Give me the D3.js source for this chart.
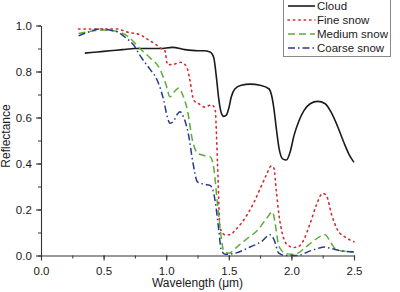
<!DOCTYPE html>
<html>
<head>
<meta charset="utf-8">
<script src="https://cdn.jsdelivr.net/npm/d3@7"></script>
<style>
  body { margin: 0; background: #fff; }
  text { font-family: "Liberation Sans", Arial, sans-serif; }
</style>
</head>
<body>
<div id="chart"></div>
<script>
// spectral reflectance
const cloudWl = [0.35,0.45,0.55,0.65,0.75,0.85,0.95,1.05,1.15,1.25,1.3,1.35,1.38,1.40,1.42,1.44,1.46,1.48,1.50,1.52,1.55,1.60,1.67,1.75,1.82,1.84,1.86,1.88,1.90,1.93,1.96,1.99,2.02,2.06,2.10,2.15,2.21,2.27,2.32,2.37,2.42,2.46,2.50];
const cloudR  = [0.88,0.885,0.89,0.895,0.9,0.9,0.9,0.905,0.895,0.89,0.89,0.885,0.86,0.78,0.68,0.62,0.605,0.61,0.64,0.69,0.725,0.74,0.745,0.74,0.725,0.70,0.64,0.55,0.47,0.42,0.415,0.45,0.52,0.585,0.63,0.66,0.67,0.66,0.62,0.56,0.49,0.44,0.405];

const fineWl = [0.30,0.40,0.50,0.60,0.70,0.79,0.85,0.91,0.96,0.99,1.01,1.05,1.11,1.15,1.17,1.19,1.22,1.26,1.31,1.36,1.39,1.41,1.43,1.47,1.51,1.55,1.60,1.65,1.70,1.75,1.80,1.84,1.86,1.88,1.90,1.93,1.97,2.02,2.06,2.10,2.15,2.20,2.25,2.28,2.32,2.37,2.43,2.50];
const fineR  = [0.985,0.985,0.985,0.985,0.97,0.96,0.94,0.92,0.90,0.89,0.83,0.83,0.84,0.83,0.81,0.76,0.675,0.66,0.645,0.655,0.64,0.40,0.12,0.09,0.09,0.11,0.14,0.18,0.23,0.29,0.35,0.39,0.38,0.28,0.18,0.09,0.045,0.035,0.04,0.07,0.14,0.22,0.27,0.26,0.18,0.11,0.08,0.06];

const medWl = [0.30,0.40,0.50,0.60,0.70,0.79,0.87,0.95,1.00,1.03,1.07,1.10,1.13,1.17,1.21,1.25,1.30,1.35,1.38,1.41,1.43,1.46,1.50,1.57,1.65,1.73,1.80,1.85,1.87,1.90,1.95,2.00,2.05,2.10,2.17,2.22,2.27,2.30,2.35,2.40,2.45,2.50];
const medR  = [0.965,0.975,0.98,0.975,0.95,0.90,0.86,0.81,0.74,0.69,0.715,0.728,0.70,0.63,0.50,0.445,0.435,0.43,0.38,0.22,0.12,0.02,0.01,0.04,0.075,0.11,0.16,0.19,0.14,0.04,0.01,0.005,0.01,0.03,0.06,0.08,0.09,0.07,0.03,0.02,0.018,0.015];

const coarseWl = [0.30,0.37,0.47,0.55,0.62,0.68,0.74,0.79,0.87,0.93,0.98,1.01,1.03,1.06,1.09,1.11,1.14,1.18,1.21,1.25,1.30,1.35,1.37,1.39,1.42,1.44,1.47,1.55,1.67,1.76,1.83,1.86,1.90,1.95,2.05,2.15,2.22,2.26,2.32,2.40,2.50];
const coarseR  = [0.955,0.97,0.985,0.98,0.97,0.945,0.915,0.87,0.81,0.76,0.675,0.60,0.575,0.585,0.615,0.625,0.60,0.52,0.415,0.32,0.31,0.305,0.29,0.24,0.11,0.024,0.005,0.01,0.037,0.06,0.09,0.07,0.01,0.0,0.0,0.02,0.032,0.037,0.03,0.02,0.015];

const seriesNames = ["Cloud", "Fine snow", "Medium snow", "Coarse snow"];
const xTicks = [0, 0.5, 1.0, 1.5, 2.0, 2.5];
const yTicks = [0, 0.2, 0.4, 0.6, 0.8, 1.0];

const series = [
  {name: seriesNames[0], wl: cloudWl,  r: cloudR,  color: "#1b1b1b", dash: null,        width: 1.6},
  {name: seriesNames[1], wl: fineWl,   r: fineR,   color: "#d42a2e", dash: "1.4,4",     width: 1.6},
  {name: seriesNames[2], wl: medWl,    r: medR,    color: "#5aae34", dash: "7,4",       width: 1.5},
  {name: seriesNames[3], wl: coarseWl, r: coarseR, color: "#283a8c", dash: "7,3,1.5,3", width: 1.5}
];

const W = 400, H = 292;
const margin = {left: 41, right: 46, top: 25.5, bottom: 36.5};

const svg = d3.select("#chart").append("svg").attr("width", W).attr("height", H);

const x = d3.scaleLinear().domain([0, 2.5]).range([margin.left, W - margin.right]);
const y = d3.scaleLinear().domain([0, 1.0]).range([H - margin.bottom, margin.top]);

// minor ticks first, then major with labels
svg.append("g").attr("transform", "translate(0," + y(0) + ")")
  .call(d3.axisBottom(x).tickValues(d3.range(0, 2.51, 0.25)).tickSize(3).tickFormat(""))
  .call(g => g.select(".domain").remove());
svg.append("g").attr("transform", "translate(" + x(0) + ",0)")
  .call(d3.axisLeft(y).tickValues(d3.range(0, 1.01, 0.1)).tickSize(3).tickFormat(""))
  .call(g => g.select(".domain").remove());

const xAxis = svg.append("g").attr("transform", "translate(0," + y(0) + ")")
  .call(d3.axisBottom(x).tickValues(xTicks).tickSize(5).tickSizeOuter(0).tickFormat(d3.format(".1f")));
const yAxis = svg.append("g").attr("transform", "translate(" + x(0) + ",0)")
  .call(d3.axisLeft(y).tickValues(yTicks).tickSize(5).tickSizeOuter(0).tickFormat(d3.format(".1f")));

[xAxis, yAxis].forEach(a => {
  a.selectAll("path, line").attr("stroke", "#333").attr("stroke-width", 1.1);
  a.selectAll("text").attr("font-family", "Liberation Sans, Arial, sans-serif")
    .attr("font-size", 11.5).attr("fill", "#1a1a1a");
});
svg.selectAll("g line").attr("stroke", "#333");
xAxis.selectAll("text").attr("dy", "1.0em");
yAxis.selectAll("text").attr("dx", "-0.1em");

const line = d3.line().x(d => x(d[0])).y(d => y(d[1])).curve(d3.curveMonotoneX);

series.forEach(s => {
  svg.append("path")
    .datum(s.wl.map((w, i) => [w, s.r[i]]))
    .attr("fill", "none")
    .attr("stroke", s.color)
    .attr("stroke-width", s.width)
    .attr("stroke-dasharray", s.dash)
    .attr("stroke-linecap", s.dash === "1.4,4" ? "round" : "butt")
    .attr("d", line);
});

// axis titles
svg.append("text")
  .attr("x", (x(0) + x(2.5)) / 2).attr("y", 287)
  .attr("text-anchor", "middle").attr("font-size", 12).attr("fill", "#1a1a1a")
  .text("Wavelength (\u03bcm)");
svg.append("text")
  .attr("transform", "translate(10," + 136 + ") rotate(-90)")
  .attr("text-anchor", "middle").attr("font-size", 12).attr("fill", "#1a1a1a")
  .text("Reflectance");

// legend
const legend = svg.append("g");
legend.append("rect").attr("x", 283.5).attr("y", -1).attr("width", 107).attr("height", 57.5)
  .attr("fill", "#fff").attr("stroke", "#888").attr("stroke-width", 1);
series.forEach((s, i) => {
  const ly = 6 + i * 14;
  legend.append("line").attr("x1", 288).attr("x2", 315).attr("y1", ly).attr("y2", ly)
    .attr("stroke", s.color).attr("stroke-width", s.width)
    .attr("stroke-dasharray", s.dash)
    .attr("stroke-linecap", s.dash === "1.4,4" ? "round" : "butt");
  legend.append("text").attr("x", 317).attr("y", ly + 4)
    .attr("font-size", 11.5).attr("fill", "#1a1a1a").text(s.name);
});
</script>
</body>
</html>
